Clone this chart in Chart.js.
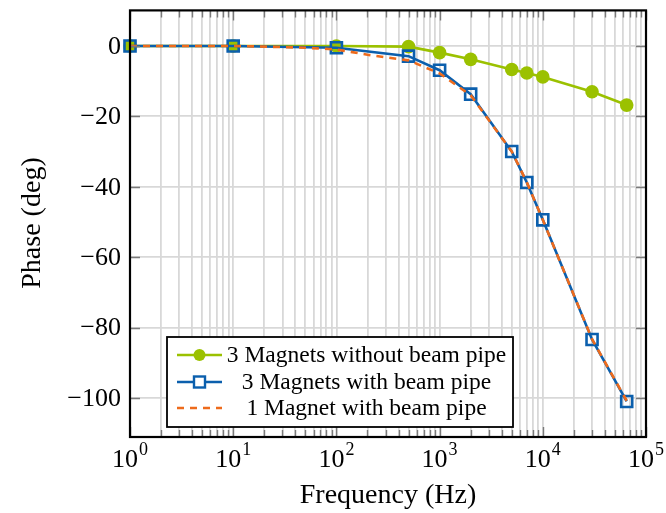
<!DOCTYPE html>
<html>
<head>
<meta charset="utf-8">
<script src="https://cdn.jsdelivr.net/npm/chart.js@4/dist/chart.umd.min.js"></script>
<style>
  html, body { margin: 0; padding: 0; background: #ffffff; }
  #wrap { width: 666px; height: 513px; position: relative; }
</style>
</head>
<body>
<div id="wrap"><canvas id="c" width="666" height="513"></canvas></div>
<script>
// Measured phase response (deg) versus excitation frequency (Hz)
const frequencies   = [1, 10, 100, 500, 1000, 2000, 5000, 7000, 10000, 30000, 65000];
const phaseNoPipe3  = [0, 0, 0, -0.2, -1.9, -3.8, -6.7, -7.7, -8.8, -13.0, -16.8];
const phasePipe3    = [0, 0, -0.5, -2.9, -6.9, -13.7, -30.0, -38.8, -49.4, -83.4, -101.0];
// Single magnet with beam pipe (finer frequency sweep)
const simFrequencies = [1, 10, 20, 50, 100, 200, 500, 1000, 2000, 5000, 7000, 10000, 30000, 65000];
const phasePipe1     = [0, 0, -0.2, -0.5, -1.0, -2.5, -4.1, -7.8, -14.0, -30.0, -38.7, -49.4, -83.3, -100.8];

const seriesLabels = ['3 Magnets without beam pipe', '3 Magnets with beam pipe', '1 Magnet with beam pipe'];

// Axis ticks
const xTickExponents = [0, 1, 2, 3, 4, 5];
const yTickValues = [0, -20, -40, -60, -80, -100];
const xTitle = 'Frequency (Hz)';
const yTitle = 'Phase (deg)';

const GREEN = '#9bc100';
const BLUE = '#0b5fad';
const ORANGE = '#ee6b1c';
const SERIF = '"Liberation Serif", "DejaVu Serif", serif';

// minor + major log grid positions: 1..9 x 10^k
const logGrid = [];
for (let e = 0; e < 5; e++) for (let m = 1; m <= 9; m++) logGrid.push(m * Math.pow(10, e));
logGrid.push(1e5);

function pts(xs, ys) { return xs.map((x, i) => ({ x: x, y: ys[i] })); }

const axisDecor = {
  id: 'axisDecor',
  afterDatasetsDraw(chart) {
    const { ctx, chartArea: a, scales } = chart;
    const xs = scales.x, ys = scales.y;
    ctx.save();
    // inside tick marks
    ctx.strokeStyle = '#7a7a7a';
    ctx.lineWidth = 1.4;
    ctx.beginPath();
    logGrid.forEach(v => {
      const px = Math.round(xs.getPixelForValue(v)) + 0.5;
      const major = Math.abs(Math.log10(v) - Math.round(Math.log10(v))) < 1e-9;
      const len = major ? 10 : 7;
      ctx.moveTo(px, a.bottom); ctx.lineTo(px, a.bottom - len);
      ctx.moveTo(px, a.top); ctx.lineTo(px, a.top + len);
    });
    yTickValues.forEach(v => {
      const py = Math.round(ys.getPixelForValue(v)) + 0.5;
      ctx.moveTo(a.left, py); ctx.lineTo(a.left + 10, py);
      ctx.moveTo(a.right, py); ctx.lineTo(a.right - 10, py);
    });
    ctx.stroke();
    // frame
    ctx.strokeStyle = '#000';
    ctx.lineWidth = 2.2;
    ctx.strokeRect(a.left, a.top, a.right - a.left, a.bottom - a.top);
    ctx.restore();
  },
  afterDraw(chart) {
    const { ctx, chartArea: a, scales } = chart;
    const xs = scales.x, ys = scales.y;
    ctx.save();
    ctx.fillStyle = '#000';
    // x tick labels 10^k
    xTickExponents.forEach(e => {
      const px = xs.getPixelForValue(Math.pow(10, e));
      ctx.font = '26px ' + SERIF;
      const wb = ctx.measureText('10').width;
      ctx.font = '18px ' + SERIF;
      const we = ctx.measureText(String(e)).width;
      const x0 = px - (wb + we + 1) / 2;
      ctx.textBaseline = 'alphabetic';
      ctx.textAlign = 'left';
      ctx.font = '26px ' + SERIF;
      ctx.fillText('10', x0, 467);
      ctx.font = '18px ' + SERIF;
      ctx.fillText(String(e), x0 + wb + 1, 455);
    });
    // y tick labels
    ctx.font = '26px ' + SERIF;
    ctx.textAlign = 'right';
    ctx.textBaseline = 'middle';
    yTickValues.forEach(v => {
      const py = ys.getPixelForValue(v);
      const txt = v < 0 ? '\u2212' + Math.abs(v) : String(v);
      ctx.fillText(txt, 121, py + 1);
    });
    // axis titles
    ctx.font = '28px ' + SERIF;
    ctx.textAlign = 'center';
    ctx.textBaseline = 'alphabetic';
    ctx.fillText(xTitle, 388, 503);
    ctx.save();
    ctx.translate(40, 223);
    ctx.rotate(-Math.PI / 2);
    ctx.fillText(yTitle, 0, 0);
    ctx.restore();

    // legend box
    const bx = 167, by = 337, bw = 346, bh = 90;
    ctx.fillStyle = '#fff';
    ctx.fillRect(bx, by, bw, bh);
    ctx.strokeStyle = '#000';
    ctx.lineWidth = 1.8;
    ctx.strokeRect(bx, by, bw, bh);
    const rows = [355, 382, 408];
    chart.data.datasets.forEach((ds, i) => {
      const y = rows[i];
      ctx.save();
      ctx.strokeStyle = ds.borderColor;
      ctx.lineWidth = ds.borderWidth;
      ctx.setLineDash(ds.borderDash || []);
      ctx.beginPath();
      ctx.moveTo(177, y); ctx.lineTo(222, y);
      ctx.stroke();
      ctx.setLineDash([]);
      if (ds.pointStyle === 'circle') {
        ctx.fillStyle = ds.pointBackgroundColor;
        ctx.beginPath();
        ctx.arc(199.5, y, 6, 0, Math.PI * 2);
        ctx.fill();
      } else if (ds.pointStyle === 'rect') {
        ctx.strokeStyle = ds.pointBorderColor;
        ctx.lineWidth = 2.4;
        ctx.fillStyle = '#fff';
        ctx.fillRect(194, y - 5.5, 11, 11);
        ctx.strokeRect(194, y - 5.5, 11, 11);
      }
      ctx.restore();
      ctx.font = '23.5px ' + SERIF;
      ctx.fillStyle = '#000';
      ctx.textAlign = 'center';
      ctx.textBaseline = 'middle';
      ctx.fillText(ds.label, 366.5, y + 1);
    });
    ctx.restore();
  }
};

new Chart(document.getElementById('c'), {
  type: 'line',
  data: {
    datasets: [
      {
        label: seriesLabels[0],
        data: pts(frequencies, phaseNoPipe3),
        borderColor: GREEN, backgroundColor: GREEN,
        borderWidth: 2.6,
        pointStyle: 'circle', pointRadius: 6.8,
        pointBackgroundColor: GREEN, pointBorderColor: GREEN, pointBorderWidth: 0,
        order: 3, clip: false
      },
      {
        label: seriesLabels[1],
        data: pts(frequencies, phasePipe3),
        borderColor: BLUE, backgroundColor: BLUE,
        borderWidth: 2.6,
        pointStyle: 'rect', pointRadius: 7.8,
        pointBackgroundColor: 'rgba(0,0,0,0)', pointBorderColor: BLUE, pointBorderWidth: 2.6,
        order: 2, clip: false
      },
      {
        label: seriesLabels[2],
        data: pts(simFrequencies, phasePipe1),
        borderColor: ORANGE, backgroundColor: ORANGE,
        borderWidth: 2.6, borderDash: [7, 6],
        pointRadius: 0,
        order: 1, clip: false
      }
    ]
  },
  options: {
    responsive: false,
    animation: false,
    layout: { padding: { left: 130, right: 20, top: 10, bottom: 76 } },
    plugins: { legend: { display: false }, tooltip: { enabled: false } },
    elements: { line: { tension: 0 } },
    scales: {
      x: {
        type: 'logarithmic', min: 1, max: 1e5,
        afterBuildTicks: s => { s.ticks = logGrid.map(v => ({ value: v })); },
        afterFit: s => { s.height = 0; },
        ticks: { display: false },
        border: { display: false },
        grid: { color: '#d8d8d8', lineWidth: 1.8, drawTicks: false }
      },
      y: {
        type: 'linear', min: -111.1, max: 10.1,
        afterBuildTicks: s => { s.ticks = yTickValues.map(v => ({ value: v })); },
        afterFit: s => { s.width = 0; },
        ticks: { display: false },
        border: { display: false },
        grid: { color: '#d8d8d8', lineWidth: 1.8, drawTicks: false }
      }
    }
  },
  plugins: [axisDecor]
});
</script>
</body>
</html>
